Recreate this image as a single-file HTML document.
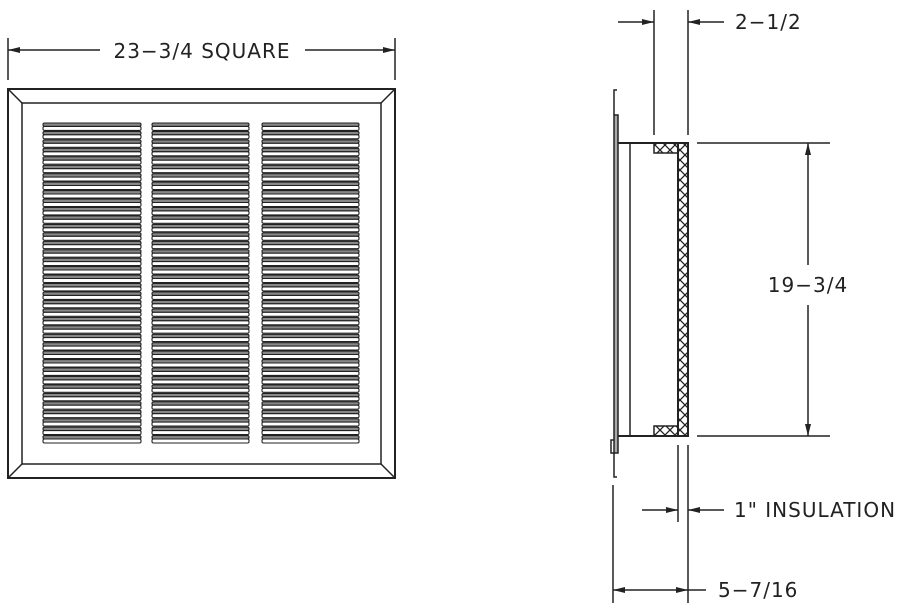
<!DOCTYPE html>
<html><head><meta charset="utf-8"><style>
html,body{margin:0;padding:0;background:#fff;width:900px;height:615px;overflow:hidden}
text{font-family:"DejaVu Sans","Liberation Sans",sans-serif;font-size:20px;fill:#222;letter-spacing:1px}
</style></head><body>
<svg id="s" width="900" height="615" viewBox="0 0 900 615" xmlns="http://www.w3.org/2000/svg">
<defs>
<marker id="a" viewBox="0 0 12 6" refX="12" refY="3" markerWidth="12" markerHeight="6" orient="auto" markerUnits="userSpaceOnUse"><path d="M0,0L12,3L0,6Z" fill="#222"/></marker>
<pattern id="x" width="10" height="10" patternUnits="userSpaceOnUse"><path d="M0,0L10,10M10,0L0,10" stroke="#222" stroke-width="1.3"/></pattern>
</defs>
<g stroke="#222" fill="none" stroke-width="1.5">
<line x1="8" y1="38" x2="8" y2="80"/><line x1="395" y1="38" x2="395" y2="80"/>
<line x1="100" y1="50" x2="8" y2="50" marker-end="url(#a)"/>
<line x1="305" y1="50" x2="395" y2="50" marker-end="url(#a)"/>
<rect x="8" y="89" width="387" height="389" stroke-width="2"/>
<rect x="22" y="103" width="359" height="361"/>
<line x1="8" y1="89" x2="22" y2="103"/><line x1="395" y1="89" x2="381" y2="103"/>
<line x1="8" y1="478" x2="22" y2="464"/><line x1="395" y1="478" x2="381" y2="464"/>
</g>
<g id="lv" stroke="#222" stroke-width="1.1" fill="#fff"></g>
<g stroke="#222" fill="none" stroke-width="1.5">
<path d="M617,90 L614,90 L614,115"/>
<rect x="614" y="115" width="4" height="338" fill="#aaa" stroke-width="1.5"/>
<path d="M614,440 L611,440 L611,453 L614,453 L614,477 L617,477"/>
<line x1="618" y1="143" x2="688" y2="143" stroke-width="2"/>
<line x1="618" y1="436" x2="688" y2="436" stroke-width="2"/>
<line x1="630" y1="143" x2="630" y2="436"/>
<rect x="678" y="143" width="10" height="293" fill="url(#x)" stroke-width="2"/>
<rect x="654" y="143" width="24" height="10" fill="url(#x)" stroke-width="1.5"/>
<rect x="654" y="426" width="24" height="10" fill="url(#x)" stroke-width="1.5"/>
<line x1="654" y1="10" x2="654" y2="135"/><line x1="688" y1="10" x2="688" y2="135"/>
<line x1="618" y1="22" x2="654" y2="22" marker-end="url(#a)"/>
<line x1="724" y1="22" x2="688" y2="22" marker-end="url(#a)"/>
<line x1="697" y1="143" x2="830" y2="143"/><line x1="697" y1="436" x2="830" y2="436"/>
<line x1="808" y1="265" x2="808" y2="143" marker-end="url(#a)"/>
<line x1="808" y1="305" x2="808" y2="436" marker-end="url(#a)"/>
<line x1="678" y1="445" x2="678" y2="522"/><line x1="688" y1="445" x2="688" y2="603"/>
<line x1="642" y1="510" x2="678" y2="510" marker-end="url(#a)"/>
<line x1="724" y1="510" x2="688" y2="510" marker-end="url(#a)"/>
<line x1="613" y1="485" x2="613" y2="603"/>
<line x1="650" y1="590" x2="613" y2="590" marker-end="url(#a)"/>
<line x1="650" y1="590" x2="688" y2="590" marker-end="url(#a)"/>
<line x1="688" y1="590" x2="706" y2="590"/>
</g>
<text x="202" y="58" text-anchor="middle">23−3/4  SQUARE</text>
<text x="735" y="29">2−1/2</text>
<text x="808" y="292" text-anchor="middle">19−3/4</text>
<text x="734" y="517">1"  INSULATION</text>
<text x="718" y="597">5−7/16</text>
</svg>
<script>
var g=document.getElementById('lv'),h='';
var cols=[[43,141],[152,249],[262,359]];
for(var i=0;i<38;i++){var y=123+i*8.45;
cols.forEach(function(c){
h+='<rect x="'+c[0]+'" y="'+y.toFixed(1)+'" width="'+(c[1]-c[0])+'" height="3.4" rx="1.5" fill="#888"/>';
h+='<rect x="'+c[0]+'" y="'+(y+3.4).toFixed(1)+'" width="'+(c[1]-c[0])+'" height="4" rx="1.5" fill="#fff"/>';});}
g.innerHTML=h;
</script>
</body></html>
